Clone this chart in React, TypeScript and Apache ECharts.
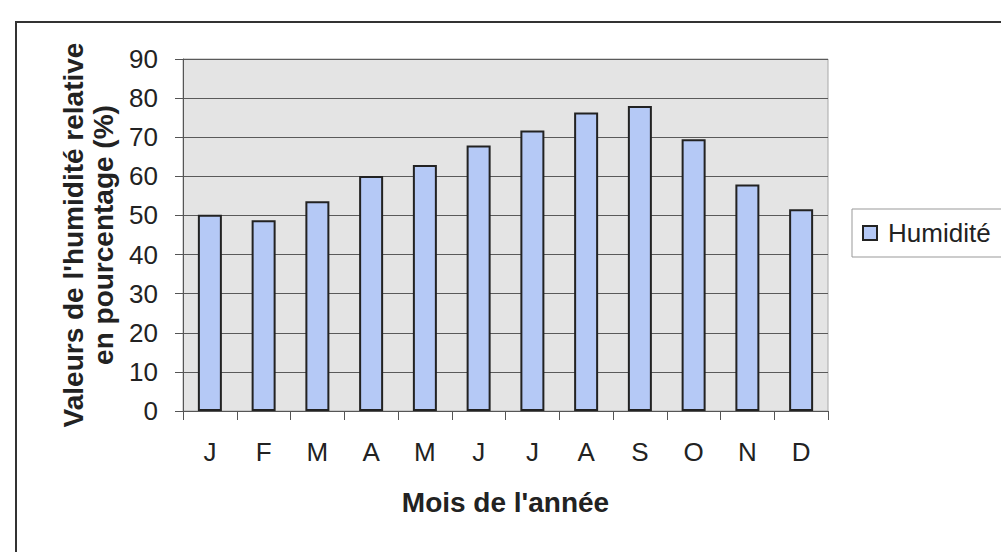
import React, { useEffect, useRef } from "react";
import * as echarts from "echarts";

const months = ["J", "F", "M", "A", "M", "J", "J", "A", "S", "O", "N", "D"];
const humidity = [50.2, 48.8, 53.6, 60.1, 62.9, 67.9, 71.7, 76.3, 78, 69.5, 57.9, 51.6];
const seriesName = "Humidité";
const yTitle = "Valeurs de l'humidité relative\nen pourcentage (%)";
const xTitle = "Mois de l'année";

export default function App() {
  const ref = useRef<HTMLDivElement>(null);
  useEffect(() => {
    if (!ref.current) return;
    const chart = echarts.init(ref.current, undefined, { renderer: "svg" });
    const font = "'Liberation Sans', Arial, sans-serif";
    chart.setOption({
      animation: false,
      backgroundColor: "#ffffff",
      textStyle: { fontFamily: font },
      graphic: [
        {
          type: "rect",
          shape: { x: 16, y: 22, width: 1010, height: 560 },
          style: { fill: "none", stroke: "#333", lineWidth: 2 },
          silent: true,
          z: -1,
        },
      ],
      grid: {
        left: 183,
        right: 173,
        top: 59,
        bottom: 141,
        show: true,
        backgroundColor: "#e4e4e4",
        borderColor: "#a8a8a8",
        borderWidth: 1,
      },
      legend: {
        left: 852,
        top: 209,
        orient: "vertical",
        data: [{ name: seriesName, icon: "rect" }],
        itemWidth: 14,
        itemHeight: 14,
        padding: [10, 40, 10, 10],
        borderColor: "#999",
        borderWidth: 1,
        backgroundColor: "#ffffff",
        textStyle: { fontSize: 26, color: "#222", fontFamily: font, padding: [0, 0, 0, 6], lineHeight: 28 },
      },
      xAxis: {
        type: "category",
        data: months,
        name: xTitle,
        nameLocation: "middle",
        nameGap: 77,
        nameTextStyle: { fontSize: 28, fontWeight: "bold", color: "#222", fontFamily: font },
        axisLine: { lineStyle: { color: "#555", width: 1 } },
        axisTick: { show: true, length: 9, lineStyle: { color: "#555" } },
        axisLabel: { fontSize: 26, color: "#222", margin: 28, fontFamily: font },
      },
      yAxis: {
        type: "value",
        min: 0,
        max: 90,
        interval: 10,
        name: yTitle,
        nameLocation: "middle",
        nameGap: 63,
        nameTextStyle: { fontSize: 28, fontWeight: "bold", color: "#222", lineHeight: 30, fontFamily: font },
        axisLine: { show: true, lineStyle: { color: "#555", width: 1 } },
        axisTick: { show: true, length: 8, lineStyle: { color: "#555" } },
        axisLabel: { fontSize: 26, color: "#222", margin: 25, fontFamily: font },
        splitLine: { show: true, lineStyle: { color: "#5a5a5a", width: 1 } },
      },
      series: [
        {
          name: seriesName,
          type: "bar",
          data: humidity,
          barWidth: 24,
          itemStyle: { color: "#b5c9f6", borderColor: "#222", borderWidth: 2 },
        },
      ],
    });
    return () => chart.dispose();
  }, []);
  return (
    <div
      ref={ref}
      style={{ position: "fixed", left: 0, top: 0, width: 1001, height: 552 }}
    />
  );
}
